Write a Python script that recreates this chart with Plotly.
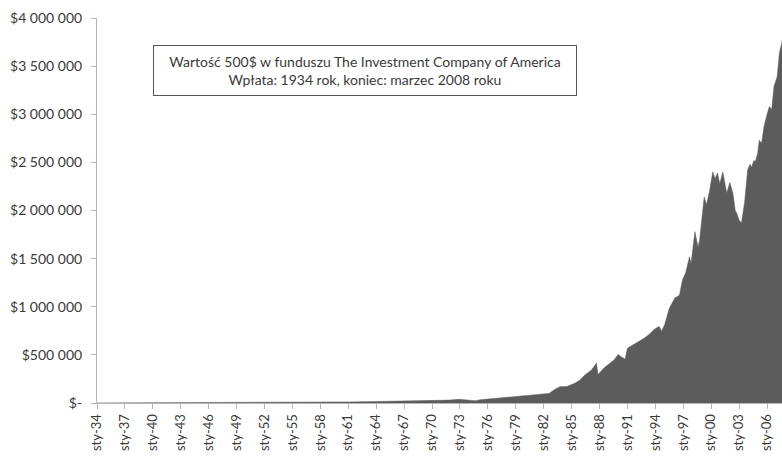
import plotly.graph_objects as go

dates = [
    "1934-01", "1937-01", "1940-01", "1943-01", "1946-01", "1949-01", "1952-01",
    "1955-01", "1958-01", "1961-01", "1964-01", "1966-01", "1968-09", "1970-06",
    "1971-11", "1972-12", "1974-09", "1975-03", "1977-04", "1979-06", "1981-01",
    "1982-08", "1983-03", "1983-10", "1984-07", "1985-05", "1985-11", "1986-06",
    "1987-03", "1987-09", "1987-11", "1988-07", "1989-08", "1990-01", "1990-05",
    "1990-10", "1991-01", "1991-10", "1992-04", "1992-11", "1993-06", "1993-12",
    "1994-06", "1994-09", "1995-01", "1995-07", "1996-02", "1996-08", "1996-12",
    "1997-04", "1997-09", "1997-11", "1998-04", "1998-06", "1998-08", "1998-10",
    "1999-01", "1999-04", "1999-07", "1999-11", "2000-03", "2000-06", "2000-09",
    "2000-12", "2001-04", "2001-06", "2001-09", "2002-01", "2002-05", "2002-08",
    "2002-10", "2003-01", "2003-04", "2003-08", "2003-12", "2004-03", "2004-05",
    "2004-08", "2004-10", "2005-01", "2005-03", "2005-06", "2005-09", "2006-01",
    "2006-04", "2006-07", "2006-10", "2007-02", "2007-05", "2007-08", "2007-11",
    "2008-03",
]
values = [
    500, 900, 700, 900, 1800, 1800, 3000,
    5500, 6500, 11000, 15000, 17000, 22000, 22000,
    30000, 38000, 24000, 33000, 50000, 68000, 85000,
    100000, 140000, 170000, 172000, 205000, 235000, 290000,
    345000, 415000, 295000, 365000, 450000, 505000, 480000,
    455000, 570000, 615000, 640000, 675000, 720000, 770000,
    795000, 745000, 815000, 985000, 1090000, 1120000, 1280000,
    1350000, 1520000, 1450000, 1780000, 1700000, 1620000, 1690000,
    1900000, 2140000, 2060000, 2210000, 2400000, 2330000, 2390000,
    2280000, 2400000, 2300000, 2180000, 2290000, 2180000, 2000000,
    1970000, 1900000, 1870000, 2080000, 2420000, 2480000, 2450000,
    2520000, 2510000, 2600000, 2730000, 2700000, 2870000, 3000000,
    3080000, 3050000, 3290000, 3390000, 3640000, 3740000, 3850000,
    3500000,
]

tick_years = list(range(1934, 2007, 3))
tick_vals = [f"{y}-01-01" for y in tick_years]
tick_text = [f"sty-{y % 100:02d}" for y in tick_years]

y_vals = [0, 500000, 1000000, 1500000, 2000000, 2500000, 3000000, 3500000, 4000000]
y_text = ["$-", "$500 000", "$1 000 000", "$1 500 000", "$2 000 000",
          "$2 500 000", "$3 000 000", "$3 500 000", "$4 000 000"]

fig = go.Figure()
fig.add_trace(go.Scatter(
    x=dates, y=values, mode="lines", fill="tozeroy",
    line=dict(color="#5c5c5c", width=0.5), fillcolor="#5c5c5c",
    showlegend=False, hoverinfo="skip",
))

fig.update_layout(
    width=782, height=458,
    margin=dict(l=97, r=0, t=18, b=55),
    paper_bgcolor="white", plot_bgcolor="white",
    font=dict(family="Lato, Open Sans, sans-serif", size=14, color="#3a3a3a"),
    xaxis=dict(
        type="date", range=["1934-01-01", "2007-08-10"],
        tickmode="array", tickvals=tick_vals, ticktext=tick_text,
        tickangle=-90, tickfont=dict(size=13),
        showgrid=False, zeroline=False,
        showline=True, linecolor="#b5b5b5", linewidth=1,
        ticks="outside", ticklen=5, tickcolor="#b5b5b5",
    ),
    yaxis=dict(
        range=[0, 4000000], tickmode="array", tickvals=y_vals, ticktext=y_text,
        showgrid=False, zeroline=False,
        showline=True, linecolor="#b5b5b5", linewidth=1,
        ticks="outside", ticklen=5, tickcolor="#b5b5b5",
        tickfont=dict(size=14), ticklabelstandoff=6,
    ),
    annotations=[dict(
        xref="paper", yref="paper", x=(365 - 97) / 685, y=(403 - 70.5) / 385,
        xanchor="center", yanchor="middle", showarrow=False,
        text="Wartość 500$ w funduszu The Investment Company of America<br>Wpłata: 1934 rok, koniec: marzec 2008 roku",
        font=dict(size=14, color="#3a3a3a"),
        width=410, height=37,
        bordercolor="#555555", borderwidth=1, borderpad=6,
        bgcolor="white", align="center",
    )],
)

fig.write_html("out.html", config={"displayModeBar": False},
               post_script="document.body.style.margin='0';")
